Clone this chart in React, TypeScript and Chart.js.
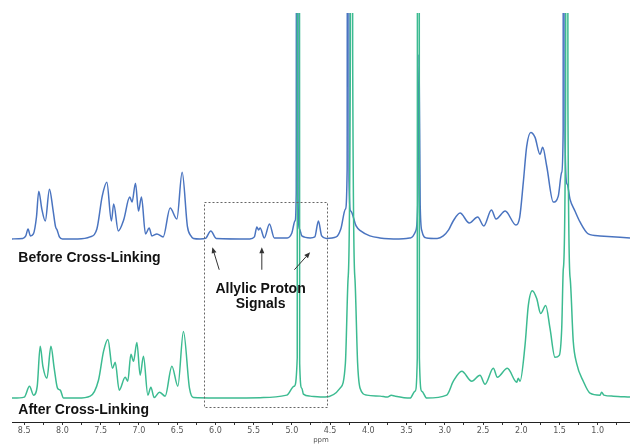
import React, { useEffect, useRef } from 'react';
import { Chart, registerables } from 'chart.js';

Chart.register(...registerables);

// ---- Data (chemical shift in ppm, intensity above each trace's baseline) ----
const beforePpm = [
  8.66, 8.52, 8.48, 8.45, 8.42, 8.38, 8.34, 8.31, 8.27, 8.225, 8.17, 8.125, 8.09, 8.07, 8.04, 8.0,
  7.8, 7.64, 7.55, 7.48, 7.42, 7.36, 7.33, 7.27, 7.2, 7.12, 7.09, 7.045, 7.006, 6.967, 6.914, 6.866,
  6.831, 6.765, 6.683, 6.592, 6.504, 6.435, 6.365, 6.32, 6.287, 6.2, 6.13, 6.06, 5.99, 5.55, 5.49,
  5.458, 5.435, 5.415, 5.36, 5.293, 5.23, 5.06, 5.0, 4.96, 4.943, 4.931, 4.919, 4.9, 4.87, 4.76, 4.7,
  4.653, 4.61, 4.55, 4.42, 4.36, 4.3, 4.277, 4.265, 4.253, 4.23, 4.16, 4.1, 3.98, 3.85, 3.6, 3.45,
  3.38, 3.352, 3.337, 3.322, 3.3, 3.24, 3.1,
  3.02, 2.95, 2.89, 2.8, 2.68, 2.57, 2.49, 2.39, 2.33, 2.21, 2.07, 2.02, 1.973, 1.929, 1.876, 1.82,
  1.755, 1.72, 1.667, 1.581, 1.516, 1.471, 1.452, 1.44, 1.428, 1.4, 1.363, 1.298, 1.232, 1.124, 0.97, 0.578,
];
const beforeIntensity = [
  0, 0.5, 3, 10, 3, 5, 22, 48, 30, 18, 50, 30, 12, 9, 2, 0,
  0, 2, 10, 43, 57, 18, 35, 8, 19, 42, 37, 56, 28, 42, 5, 11,
  3, 5, 2, 31, 20, 67, 12, 3, 0.5, 0, 0.5, 8, 0.5, 0, 2,
  12, 9, 11, 1, 15, 1, 1, 6, 18, 45, 3000, 40, 10, 3, 1, 2,
  18, 3, 0.5, 2, 10, 30, 70, 3000, 60, 28, 13, 8, 3, 1, 0, 1,
  8, 40, 185, 35, 8, 1, 0.5,
  3, 9, 18, 26, 16, 22, 13, 29, 20, 28, 14, 22, 57, 93, 107, 102,
  85, 92, 73, 37, 43, 67, 110, 3000, 100, 55, 40, 28, 17, 5, 3, 1,
];

const afterPpm = [
  8.66, 8.5, 8.431, 8.378, 8.33, 8.291, 8.256, 8.203, 8.151, 8.108, 8.065, 8.029, 7.986, 7.8, 7.637,
  7.529, 7.463, 7.406, 7.346, 7.31, 7.258, 7.18, 7.146, 7.105, 7.071, 7.027, 6.984, 6.941, 6.883,
  6.844, 6.801, 6.731, 6.657, 6.569, 6.491, 6.418, 6.339, 6.287, 6.0, 5.372, 5.066, 4.97, 4.93, 4.914,
  4.898, 4.87, 4.849, 4.761, 4.565, 4.369, 4.3, 4.265, 4.235, 4.22, 4.205, 4.175, 4.14, 4.108, 4.02,
  3.846, 3.75, 3.7, 3.65, 3.454, 3.389, 3.36, 3.346, 3.332, 3.301, 3.236, 2.975, 2.888, 2.778, 2.648,
  2.54, 2.474, 2.365, 2.313, 2.182, 2.059, 2.04, 2.016, 1.951, 1.908, 1.856, 1.798, 1.746, 1.68,
  1.624, 1.559, 1.503, 1.471, 1.45, 1.42, 1.405, 1.39, 1.36, 1.32, 1.276, 1.189, 1.101, 0.97, 0.949,
  0.92, 0.797, 0.578,
];
const afterIntensity = [
  0, 1, 12, 3, 12, 52, 32, 20, 52, 30, 10, 8, 0, 0, 2,
  18, 47, 59, 30, 36, 8, 21, 17, 44, 37, 56, 23, 42, 3,
  11, 0.5, 6, 2, 32, 12, 67, 10, 0.5, 0, 0.5, 3, 12, 40, 3000,
  35, 10, 4, 2, 1, 10, 35, 120, 350, 3000, 350, 120, 35, 10, 3,
  2, 1, 3, 2, 0, 7, 40, 3000, 40, 7, 0, 3, 17, 27, 17,
  23, 14, 30, 21, 30, 16, 20, 17, 53, 93, 108, 100, 85, 93,
  70, 41, 43, 70, 130, 300, 3000, 300, 120, 57, 35, 17, 5, 3, 6,
  3, 2, 1,
];

const majorTicks = [8.5, 8.0, 7.5, 7.0, 6.5, 6.0, 5.5, 5.0, 4.5, 4.0, 3.5, 3.0, 2.5, 2.0, 1.5, 1.0];
const majorTickLabels = ['8.5', '8.0', '7.5', '7.0', '6.5', '6.0', '5.5', '5.0', '4.5', '4.0', '3.5', '3.0', '2.5', '2.0', '1.5', '1.0'];
const minorTicks = [8.25, 7.75, 7.25, 6.75, 6.25, 5.75, 5.25, 4.75, 4.25, 3.75, 3.25, 2.75, 2.25, 1.75, 1.25, 0.75];

// vertical offsets of the two stacked traces (in y-axis units)
const BEFORE_OFFSET = 184;
const AFTER_OFFSET = 24;

// annotations, anchored in data coordinates (ppm, y-axis units)
const boxPpm = [6.147, 4.543];
const boxY = [220.7, 15];
const arrows = [
  { from: [5.95, 153], to: [6.04, 175.7] },
  { from: [5.393, 153], to: [5.393, 175.7] },
  { from: [4.967, 153], to: [4.761, 170.7] },
];
const textLabels = [
  { text: 'Before Cross-Linking', ppm: 8.578, y: 161, align: 'left' },
  { text: 'After Cross-Linking', ppm: 8.578, y: 8, align: 'left' },
  { text: 'Allylic Proton', ppm: 5.409, y: 130, align: 'center' },
  { text: 'Signals', ppm: 5.409, y: 115, align: 'center' },
];

const BLUE = '#4a74c0';
const GREEN = '#3cbb91';

const annotationPlugin = {
  id: 'nmrAnnotations',
  afterDraw(chart: any) {
    const { ctx } = chart;
    const xs = chart.scales.x;
    const ys = chart.scales.y;
    const px = (v: number) => xs.getPixelForValue(v);
    const py = (v: number) => ys.getPixelForValue(v);
    ctx.save();
    // dashed box
    ctx.strokeStyle = '#666';
    ctx.lineWidth = 1;
    ctx.setLineDash([2, 2]);
    const x0 = Math.round(px(boxPpm[0])) + 0.5;
    const x1 = Math.round(px(boxPpm[1])) + 0.5;
    const y0 = Math.round(py(boxY[0])) + 0.5;
    const y1 = Math.round(py(boxY[1])) + 0.5;
    ctx.strokeRect(x0, y0, x1 - x0, y1 - y0);
    ctx.setLineDash([]);
    // arrows
    ctx.strokeStyle = '#333';
    ctx.fillStyle = '#333';
    ctx.lineWidth = 1;
    arrows.forEach((a) => {
      const fx = px(a.from[0]);
      const fy = py(a.from[1]);
      const tx = px(a.to[0]);
      const ty = py(a.to[1]);
      const ang = Math.atan2(ty - fy, tx - fx);
      const hl = 6;
      const hw = 2.5;
      const bx = tx - hl * Math.cos(ang);
      const by = ty - hl * Math.sin(ang);
      ctx.beginPath();
      ctx.moveTo(fx, fy);
      ctx.lineTo(bx, by);
      ctx.stroke();
      ctx.beginPath();
      ctx.moveTo(tx, ty);
      ctx.lineTo(bx + hw * Math.sin(ang), by - hw * Math.cos(ang));
      ctx.lineTo(bx - hw * Math.sin(ang), by + hw * Math.cos(ang));
      ctx.closePath();
      ctx.fill();
    });
    // texts
    ctx.fillStyle = '#111';
    ctx.font = 'bold 14px "Liberation Sans", Arial, sans-serif';
    ctx.textBaseline = 'alphabetic';
    textLabels.forEach((t) => {
      ctx.textAlign = t.align as CanvasTextAlign;
      ctx.fillText(t.text, px(t.ppm), py(t.y));
    });
    ctx.restore();
  },
};

export default function App() {
  const canvasRef = useRef<HTMLCanvasElement | null>(null);

  useEffect(() => {
    document.body.style.margin = '0';
    const canvas = canvasRef.current;
    if (!canvas) return;
    const allTicks = [...majorTicks, ...minorTicks].sort((a, b) => b - a);
    const chart = new Chart(canvas, {
      type: 'line',
      data: {
        datasets: [
          {
            label: 'After Cross-Linking',
            data: afterPpm.map((p, i) => ({ x: p, y: afterIntensity[i] + AFTER_OFFSET })),
            borderColor: GREEN,
            borderWidth: 1.5,
            pointRadius: 0,
            fill: false,
            cubicInterpolationMode: 'monotone',
          },
          {
            label: 'Before Cross-Linking',
            data: beforePpm.map((p, i) => ({ x: p, y: beforeIntensity[i] + BEFORE_OFFSET })),
            borderColor: BLUE,
            borderWidth: 1.5,
            pointRadius: 0,
            fill: false,
            cubicInterpolationMode: 'monotone',
          },
        ],
      },
      options: {
        animation: false,
        responsive: false,
        devicePixelRatio: 1,
        layout: { padding: { left: 12, top: 13, right: 0, bottom: 0 } },
        plugins: {
          legend: { display: false },
          tooltip: { enabled: false },
        },
        scales: {
          x: {
            type: 'linear',
            reverse: true,
            min: 0.578,
            max: 8.66,
            afterBuildTicks: (scale: any) => {
              scale.ticks = allTicks.map((v) => ({ value: v }));
            },
            ticks: {
              autoSkip: false,
              maxRotation: 0,
              padding: 2,
              color: '#555',
              font: { family: '"DejaVu Sans", Verdana, sans-serif', size: 8, lineHeight: 1 },
              callback: (value: any) => {
                const idx = majorTicks.findIndex((m) => Math.abs(m - Number(value)) < 1e-6);
                return idx >= 0 ? majorTickLabels[idx] : '';
              },
            },
            grid: {
              display: true,
              drawOnChartArea: false,
              drawTicks: true,
              tickLength: 3,
              tickColor: '#333',
            },
            border: { display: true, color: '#222', width: 1 },
            title: {
              display: true,
              text: 'ppm',
              color: '#555',
              font: { family: '"DejaVu Sans", Verdana, sans-serif', size: 7, lineHeight: 1 },
              padding: { top: 0, bottom: 0 },
            },
          },
          y: {
            type: 'linear',
            display: false,
            min: 0,
            max: 411,
          },
        },
      },
      plugins: [annotationPlugin],
    } as any);
    return () => chart.destroy();
  }, []);

  return (
    <div style={{ position: 'absolute', left: 0, top: 0, width: 630, height: 444, background: '#fff' }}>
      <canvas ref={canvasRef} width={630} height={444} style={{ display: 'block' }} />
    </div>
  );
}
